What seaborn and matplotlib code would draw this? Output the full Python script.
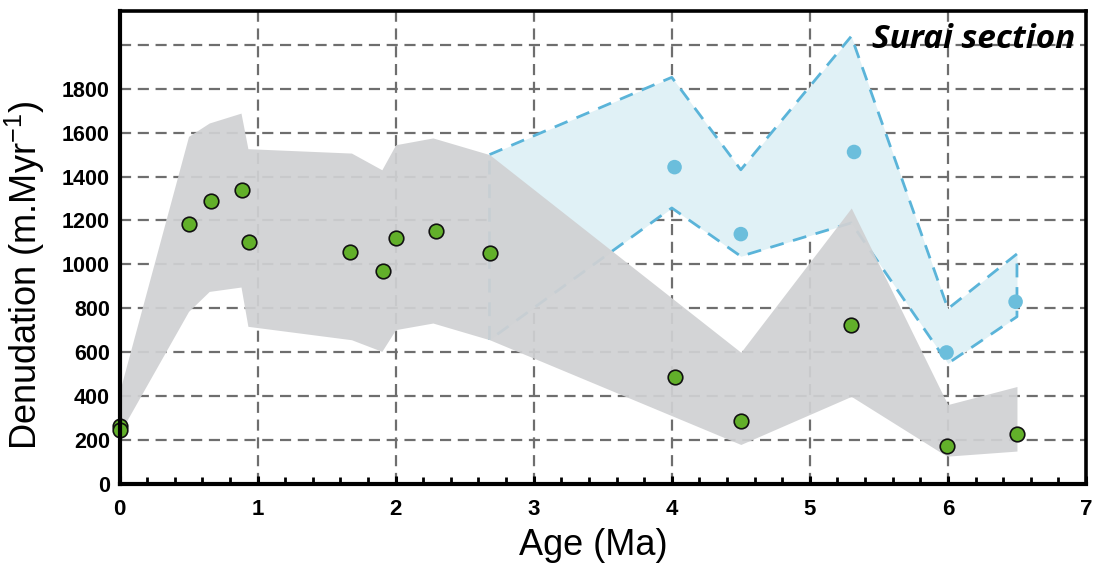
import numpy as np
import pandas as pd
import matplotlib
matplotlib.use("Agg")
import matplotlib.pyplot as plt
import seaborn as sns

# ---------------- data ----------------
green_age = [0.0, 0.0, 0.50, 0.66, 0.885, 0.94, 1.67, 1.91, 2.00, 2.29, 2.68, 4.02, 4.50, 5.30, 5.99, 6.50]
green_den = [265, 246, 1185, 1287, 1339, 1102, 1055, 969, 1119, 1152, 1052, 485, 286, 726, 172, 227]

blue_age = [4.02, 4.50, 5.32, 5.99, 6.49]
blue_den = [1443, 1138, 1512, 599, 830]

gray_x = [0.0, 0.50, 0.65, 0.88, 0.93, 1.68, 1.90, 2.00, 2.27, 2.68, 4.50, 5.30, 5.97, 6.00, 6.50]
gray_hi = [420, 1583, 1644, 1689, 1527, 1507, 1431, 1545, 1576, 1500, 600, 1257, 398, 362, 444]
gray_lo = [230, 786, 877, 897, 718, 657, 604, 703, 733, 657, 180, 399, 135, 127, 150]

blue_x = [2.68, 4.00, 4.50, 5.30, 6.00, 6.50]
blue_hi = [1500, 1852, 1431, 2039, 798, 1048]
blue_lo = [656, 1257, 1037, 1189, 549, 762]

x_ticks = [0, 1, 2, 3, 4, 5, 6, 7]
y_ticks = [0, 200, 400, 600, 800, 1000, 1200, 1400, 1600, 1800, 2000]
y_tick_labels = ["0", "200", "400", "600", "800", "1000", "1200", "1400", "1600", "1800", ""]

title_text = "Surai section"
x_label = "Age (Ma)"
y_label = "Denudation (m.Myr$^{-1}$)"

# ---------------- style ----------------
sns.set_theme(style="white")
plt.rcParams["font.family"] = ["Liberation Sans", "DejaVu Sans"]
plt.rcParams["mathtext.fontset"] = "custom"
plt.rcParams["mathtext.rm"] = "Liberation Sans"
plt.rcParams["text.color"] = "black"
plt.rcParams["axes.labelcolor"] = "black"
plt.rcParams["xtick.color"] = "black"
plt.rcParams["ytick.color"] = "black"

fig = plt.figure(figsize=(10.97, 5.65), dpi=100)
ax = fig.add_axes([119.5 / 1097, 1 - 484 / 565, (1086 - 119.5) / 1097, (484 - 11) / 565])

ax.set_xlim(0, 7)
ax.set_ylim(0, 2154)

grid_col = "#6e6e6e"
ax.set_axisbelow(True)
for xv in x_ticks[1:-1]:
    ax.axvline(xv, color=grid_col, lw=1.6, ls=(0, (5, 3)), zorder=0)
for yv in y_ticks[1:]:
    ax.axhline(yv, color=grid_col, lw=1.6, ls=(0, (5, 3)), zorder=0)

# blue envelope
ax.fill_between(blue_x, blue_lo, blue_hi, color="#e0f1f6", lw=0, zorder=1)
bdf = pd.DataFrame({
    "x": blue_x + blue_x[::-1] + [blue_x[0]],
    "y": blue_hi + blue_lo[::-1] + [blue_hi[0]],
})
ax.plot(bdf["x"], bdf["y"], color="#5ab4d9", lw=2.0, ls=(0, (5, 3.5)), zorder=1.5)

# gray envelope
ax.fill_between(gray_x, gray_lo, gray_hi, color="#d0d1d3", alpha=0.93, lw=0, zorder=2)

# points
gdf = pd.DataFrame({"age": green_age, "den": green_den})
sns.scatterplot(data=gdf, x="age", y="den", ax=ax, s=110, color="#62b02a",
                edgecolor="#111111", linewidth=1.2, zorder=4, clip_on=False, legend=False)
cdf = pd.DataFrame({"age": blue_age, "den": blue_den})
sns.scatterplot(data=cdf, x="age", y="den", ax=ax, s=110, color="#6bbedc",
                edgecolor="none", linewidth=0, zorder=4, clip_on=False, legend=False)

# axes styling
ax.set_xticks(x_ticks)
ax.set_xticks(np.arange(0, 7.01, 0.2), minor=True)
ax.set_yticks(y_ticks)
ax.set_yticklabels(y_tick_labels)
ax.tick_params(axis="x", which="major", direction="in", length=6, width=2.2,
               labelsize=16, pad=11, bottom=True, top=False, color="black", labelcolor="black")
ax.tick_params(axis="x", which="minor", direction="in", length=5, width=2.0,
               bottom=True, top=False, color="black")
ax.tick_params(axis="y", which="both", length=0, labelsize=15.5, pad=7, left=True, labelcolor="black")
for lab in ax.get_xticklabels() + ax.get_yticklabels():
    lab.set_fontweight("bold")

for side, w in [("left", 3.0), ("bottom", 3.0), ("top", 2.6), ("right", 2.6)]:
    ax.spines[side].set_visible(True)
    ax.spines[side].set_color("black")
    ax.spines[side].set_linewidth(w)
    ax.spines[side].set_zorder(5)

ax.set_xlabel(x_label, fontsize=26, color="black")
ax.set_ylabel(y_label, fontsize=26, color="black")
ax.xaxis.set_label_coords(0.49, -0.093)
ax.yaxis.set_label_coords(-0.075, 0.44)

ax.text(0.989, 1985, title_text, transform=ax.get_yaxis_transform(), ha="right", va="baseline",
        fontsize=24, fontweight="bold", fontstyle="italic", family=["Open Sans", "DejaVu Sans"],
        color="black", zorder=6)

fig.savefig("out.png", dpi=100)
